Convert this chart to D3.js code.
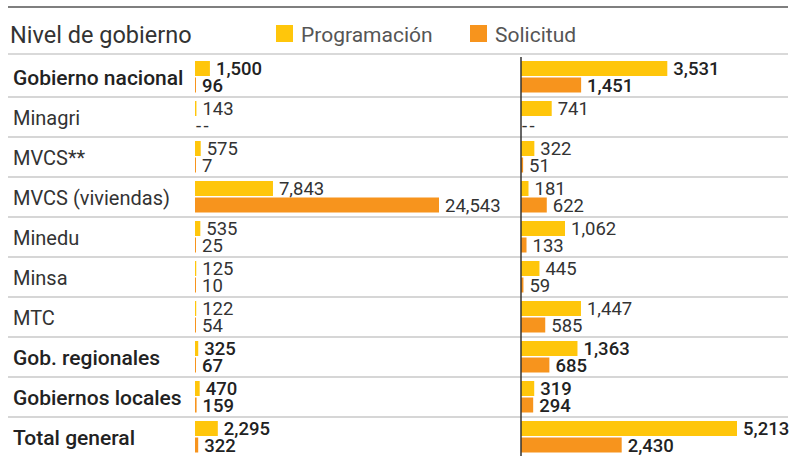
<!DOCTYPE html>
<html>
<head>
<meta charset="utf-8">
<script src="https://cdn.jsdelivr.net/npm/d3@7"></script>
<style>
  body { margin: 0; background: #fff; }
  svg { display: block; font-family: Roboto, "Noto Sans", sans-serif; }
</style>
</head>
<body>
<script>
var w = 799;
var h = 456;

var categories = ["Gobierno nacional", "Minagri", "MVCS**", "MVCS (viviendas)", "Minedu",
    "Minsa", "MTC", "Gob. regionales", "Gobiernos locales", "Total general"];
var boldRows = [true, false, false, false, false, false, false, true, true, true];

var seriesNames = ["Programación", "Solicitud"];
var leftProg = [1500, 143, 575, 7843, 535, 125, 122, 325, 470, 2295];
var leftSol = [96, null, 7, 24543, 25, 10, 54, 67, 159, 322];
var rightProg = [3531, 741, 322, 181, 1062, 445, 1447, 1363, 319, 5213];
var rightSol = [1451, null, 51, 622, 133, 59, 585, 685, 294, 2430];

var colors = ["#ffc60b", "#f7941d"];

var svg = d3.select("body")
    .append("svg")
    .attr("width", w)
    .attr("height", h);

var yScale = d3.scaleBand()
    .domain(d3.range(categories.length))
    .range([57, 457]);

var xLeft = d3.scaleLinear()
    .domain([0, d3.max(leftSol)])
    .range([195, 439]);

var xRight = d3.scaleLinear()
    .domain([0, d3.max(rightProg)])
    .range([521, 737]);

var fmt = d3.format(",");

// top rule and header
svg.append("line")
    .attr("x1", 8).attr("x2", 788)
    .attr("y1", 7).attr("y2", 7)
    .style("stroke", "#555").style("stroke-width", 1.5);

svg.append("text")
    .attr("x", 10).attr("y", 43)
    .style("font-size", "23.5px")
    .style("fill", "#333")
    .text("Nivel de gobierno");

var legendX = [276, 470];
seriesNames.forEach(function(name, i) {
    svg.append("rect")
        .attr("x", legendX[i]).attr("y", 25)
        .attr("width", 17).attr("height", 17)
        .style("fill", colors[i]);
    svg.append("text")
        .attr("x", legendX[i] + 25).attr("y", 41.5)
        .style("font-size", "21px")
        .style("fill", "#555")
        .text(name);
});

svg.append("line")
    .attr("x1", 8).attr("x2", 788)
    .attr("y1", 54).attr("y2", 54)
    .style("stroke", "#ccc").style("stroke-width", 1.5);

// row separators
svg.selectAll("line.sep")
    .data(d3.range(categories.length - 1))
    .enter()
    .append("line")
    .attr("class", "sep")
    .attr("x1", 8).attr("x2", 788)
    .attr("y1", function(d) { return yScale(d) + yScale.bandwidth(); })
    .attr("y2", function(d) { return yScale(d) + yScale.bandwidth(); })
    .style("stroke", "#c8c8c8").style("stroke-width", 1.5);

// category labels
svg.selectAll("text.cat")
    .data(categories)
    .enter()
    .append("text")
    .attr("class", "cat")
    .attr("x", 13)
    .attr("y", function(d, i) { return yScale(i) + yScale.bandwidth() / 2 + 7.5; })
    .style("font-size", function(d, i) { return boldRows[i] ? "21px" : "20px"; })
    .style("font-weight", function(d, i) { return boldRows[i] ? 500 : 400; })
    .style("fill", function(d, i) { return boldRows[i] ? "#222" : "#333"; })
    .text(function(d) { return d; });

var barH = 15;
var barTop = [4, 20.5];

function drawPanel(xs, progVals, solVals) {
    [progVals, solVals].forEach(function(vals, s) {
        var g = svg.append("g");
        g.selectAll("rect")
            .data(vals)
            .enter()
            .filter(function(d) { return d !== null; })
            .append("rect")
            .attr("x", xs(0))
            .attr("y", function(d) { return yScale(vals.indexOf(d)) + barTop[s]; })
            .attr("height", barH)
            .attr("width", function(d) { return Math.max(1, xs(d) - xs(0)); })
            .style("fill", colors[s]);

        vals.forEach(function(d, i) {
            var y = yScale(i) + barTop[s] + barH / 2 + 6.5;
            var x = d === null ? xs(0) + 1 : xs(0) + Math.max(1, xs(d) - xs(0)) + 6;
            g.append("text")
                .attr("x", x)
                .attr("y", y)
                .style("font-size", "18.5px")
                .style("font-weight", boldRows[i] ? 500 : 400)
                .style("letter-spacing", d === null ? "2.5px" : null)
                .style("fill", boldRows[i] ? "#222" : "#333")
                .text(d === null ? "--" : fmt(d));
        });
    });
}

drawPanel(xLeft, leftProg, leftSol);
drawPanel(xRight, rightProg, rightSol);

// divider between panels
svg.append("line")
    .attr("x1", 521).attr("x2", 521)
    .attr("y1", 57).attr("y2", h)
    .style("stroke", "#333").style("stroke-width", 1.5);
</script>
</body>
</html>
